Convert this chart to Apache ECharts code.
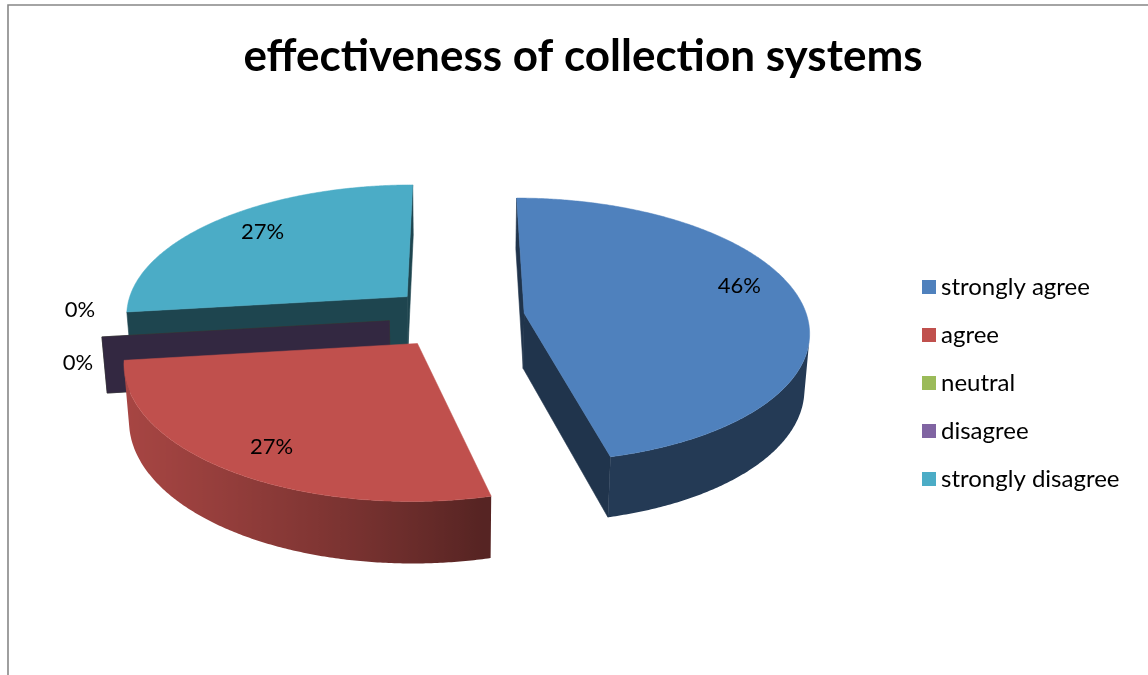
<!DOCTYPE html>
<html><head><meta charset="utf-8">
<script src="https://cdn.jsdelivr.net/npm/echarts@6/dist/echarts.min.js"></script>
<style>html,body{margin:0;padding:0;background:#fff}#c{width:1148px;height:675px}</style>
</head><body><div id="c"></div>
<script>
// ---- data ----
const chartTitle = 'effectiveness of collection systems';
const categories = ['strongly agree', 'agree', 'neutral', 'disagree', 'strongly disagree'];
const values = [12, 7, 0, 0, 7];
const colors = ['#4F81BD', '#C0504D', '#9BBB59', '#8064A2', '#4BACC6'];
// label nudges (px) relative to computed anchor — styling only
const labelNudge = [[22, -16], [-18, 18], [-22, -27], [-24, 26], [-10, -10]];

// ---- 3D view parameters ----
const VIEW = { cx: 457, cy: 317, f: 1981, D: 7, alpha: 27.5 * Math.PI / 180, explode: 0.24, height: 0.224 };
const SA = Math.sin(VIEW.alpha), CA = Math.cos(VIEW.alpha);
const CAM = { X: 0, Y: -VIEW.D * CA, Z: VIEW.D * SA };
const FONT = 'Lato, "Open Sans", sans-serif';

const total = values.reduce((a, b) => a + b, 0);
const starts = []; let acc = 0; values.forEach(v => { starts.push(acc); acc += v; });

function proj(X, Y, Z) {
  const yc = Y * SA + Z * CA;
  const zc = Y * CA - Z * SA + VIEW.D;
  return [VIEW.cx + VIEW.f * X / zc, VIEW.cy - VIEW.f * yc / zc];
}
function shade(hex, k) {
  const n = parseInt(hex.slice(1), 16);
  const r = Math.round(((n >> 16) & 255) * k), g = Math.round(((n >> 8) & 255) * k), b = Math.round((n & 255) * k);
  return 'rgb(' + r + ',' + g + ',' + b + ')';
}
function sliceGeom(i) {
  const a0 = starts[i] / total * 2 * Math.PI, a1 = (starts[i] + values[i]) / total * 2 * Math.PI;
  const mid = (a0 + a1) / 2;
  return { a0, a1, mid, ox: VIEW.explode * Math.sin(mid), oy: VIEW.explode * Math.cos(mid) };
}
function wallLight(th) {
  const deg = th * 180 / Math.PI;
  const t = Math.min(1, Math.max(0, (deg - 168) / 92));
  return 0.45 + 0.42 * (1 - (1 - t) * (1 - t));
}

function renderSlice(i) {
  const g = sliceGeom(i), base = colors[i], H = VIEW.height, ch = [];
  const W = (r, th, z) => ({ X: g.ox + r * Math.sin(th), Y: g.oy + r * Math.cos(th), Z: z });
  const S = p => proj(p.X, p.Y, p.Z);
  const distOf = pts => {
    const c = { X: 0, Y: 0, Z: 0 };
    pts.forEach(p => { c.X += p.X / pts.length; c.Y += p.Y / pts.length; c.Z += p.Z / pts.length; });
    return { c, d: Math.hypot(CAM.X - c.X, CAM.Y - c.Y, CAM.Z - c.Z) };
  };
  const facing = (p, nx, ny) => nx * (CAM.X - p.X) + ny * (CAM.Y - p.Y) > 0;
  function addRadial(th, nx, ny) {
    const pts = [W(0, th, 0), W(1, th, 0), W(1, th, -H), W(0, th, -H)];
    const o = distOf(pts);
    if (!facing(o.c, nx, ny)) return;
    const col = shade(base, 0.4);
    ch.push({ type: 'polygon', shape: { points: pts.map(S) }, style: { fill: col, stroke: col, lineWidth: 0.6 }, z2: Math.round(100000 - o.d * 10000) });
  }
  addRadial(g.a0, -Math.cos(g.a0), Math.sin(g.a0));
  addRadial(g.a1, Math.cos(g.a1), -Math.sin(g.a1));

  const span = g.a1 - g.a0;
  if (span > 1e-6) {
    // outer wall: contiguous front-facing runs, one polygon each with a horizontal gradient
    const n = Math.max(2, Math.ceil(span / (Math.PI / 360)));
    let run = [];
    const flush = () => {
      if (run.length >= 2) {
        const top = run.map(t => S(W(1, t, 0))), bot = run.map(t => S(W(1, t, -H))).reverse();
        const xs = top.map(p => p[0]);
        const xmin = Math.min(...xs), xmax = Math.max(...xs);
        const stops = run.map((t, k) => ({ offset: xmax > xmin ? (xs[k] - xmin) / (xmax - xmin) : 0, color: shade(base, wallLight(t)) }))
          .sort((a, b) => a.offset - b.offset);
        const o = distOf(run.map(t => W(1, t, -H / 2)));
        ch.push({ type: 'polygon', shape: { points: top.concat(bot) },
          style: { fill: { type: 'linear', x: xmin, y: 0, x2: xmax, y2: 0, global: true, colorStops: stops }, lineWidth: 0 },
          z2: Math.round(100000 - o.d * 10000) });
      }
      run = [];
    };
    for (let s = 0; s <= n; s++) {
      const t = g.a0 + span * s / n;
      const p = W(1, t, -H / 2);
      if (facing(p, Math.sin(t), Math.cos(t))) run.push(t); else flush();
    }
    flush();
    // top face
    const pts = [S(W(0, 0, 0))];
    const m = Math.max(2, Math.ceil(span / (Math.PI / 360)));
    for (let s = 0; s <= m; s++) pts.push(S(W(1, g.a0 + span * s / m, 0)));
    ch.push({ type: 'polygon', shape: { points: pts }, style: { fill: base, stroke: base, lineWidth: 0.5 }, z2: 200000 });
  }
  // label
  const pct = Math.round(values[i] / total * 100) + '%';
  const lp = span > 1e-6 ? S(W(0.7, g.mid, 0)) : S(W(1, g.mid, 0));
  ch.push({ type: 'text', x: lp[0] + labelNudge[i][0], y: lp[1] + labelNudge[i][1], z2: 300000,
    style: { text: pct, fill: '#000', font: '22px ' + FONT, align: 'center', verticalAlign: 'middle' } });
  return { type: 'group', children: ch };
}

const series = categories.map((name, i) => ({
  name, type: 'custom', coordinateSystem: 'none', silent: true,
  color: colors[i], itemStyle: { color: colors[i] },
  data: [[values[i]]],
  renderItem: () => renderSlice(i)
}));

const chart = echarts.init(document.getElementById('c'), null, { renderer: 'canvas' });
chart.setOption({
  animation: false,
  backgroundColor: '#fff',
  title: { text: chartTitle, left: 583, top: 35, textAlign: 'center', padding: 0,
    textStyle: { fontFamily: FONT, fontWeight: 'bold', fontSize: 44, color: '#000' } },
  legend: { orient: 'vertical', left: 922, top: 275, padding: 0, icon: 'rect', itemWidth: 14, itemHeight: 14, itemGap: 24,
    data: categories, selectedMode: false,
    textStyle: { fontFamily: FONT, fontSize: 24, lineHeight: 24, color: '#000', padding: [0, 0, 0, 0] } },
  graphic: [{ type: 'rect', shape: { x: 8, y: 5, width: 1300, height: 900 }, style: { fill: 'none', stroke: '#878787', lineWidth: 1.6 }, silent: true }],
  series
});
</script>
</body></html>
